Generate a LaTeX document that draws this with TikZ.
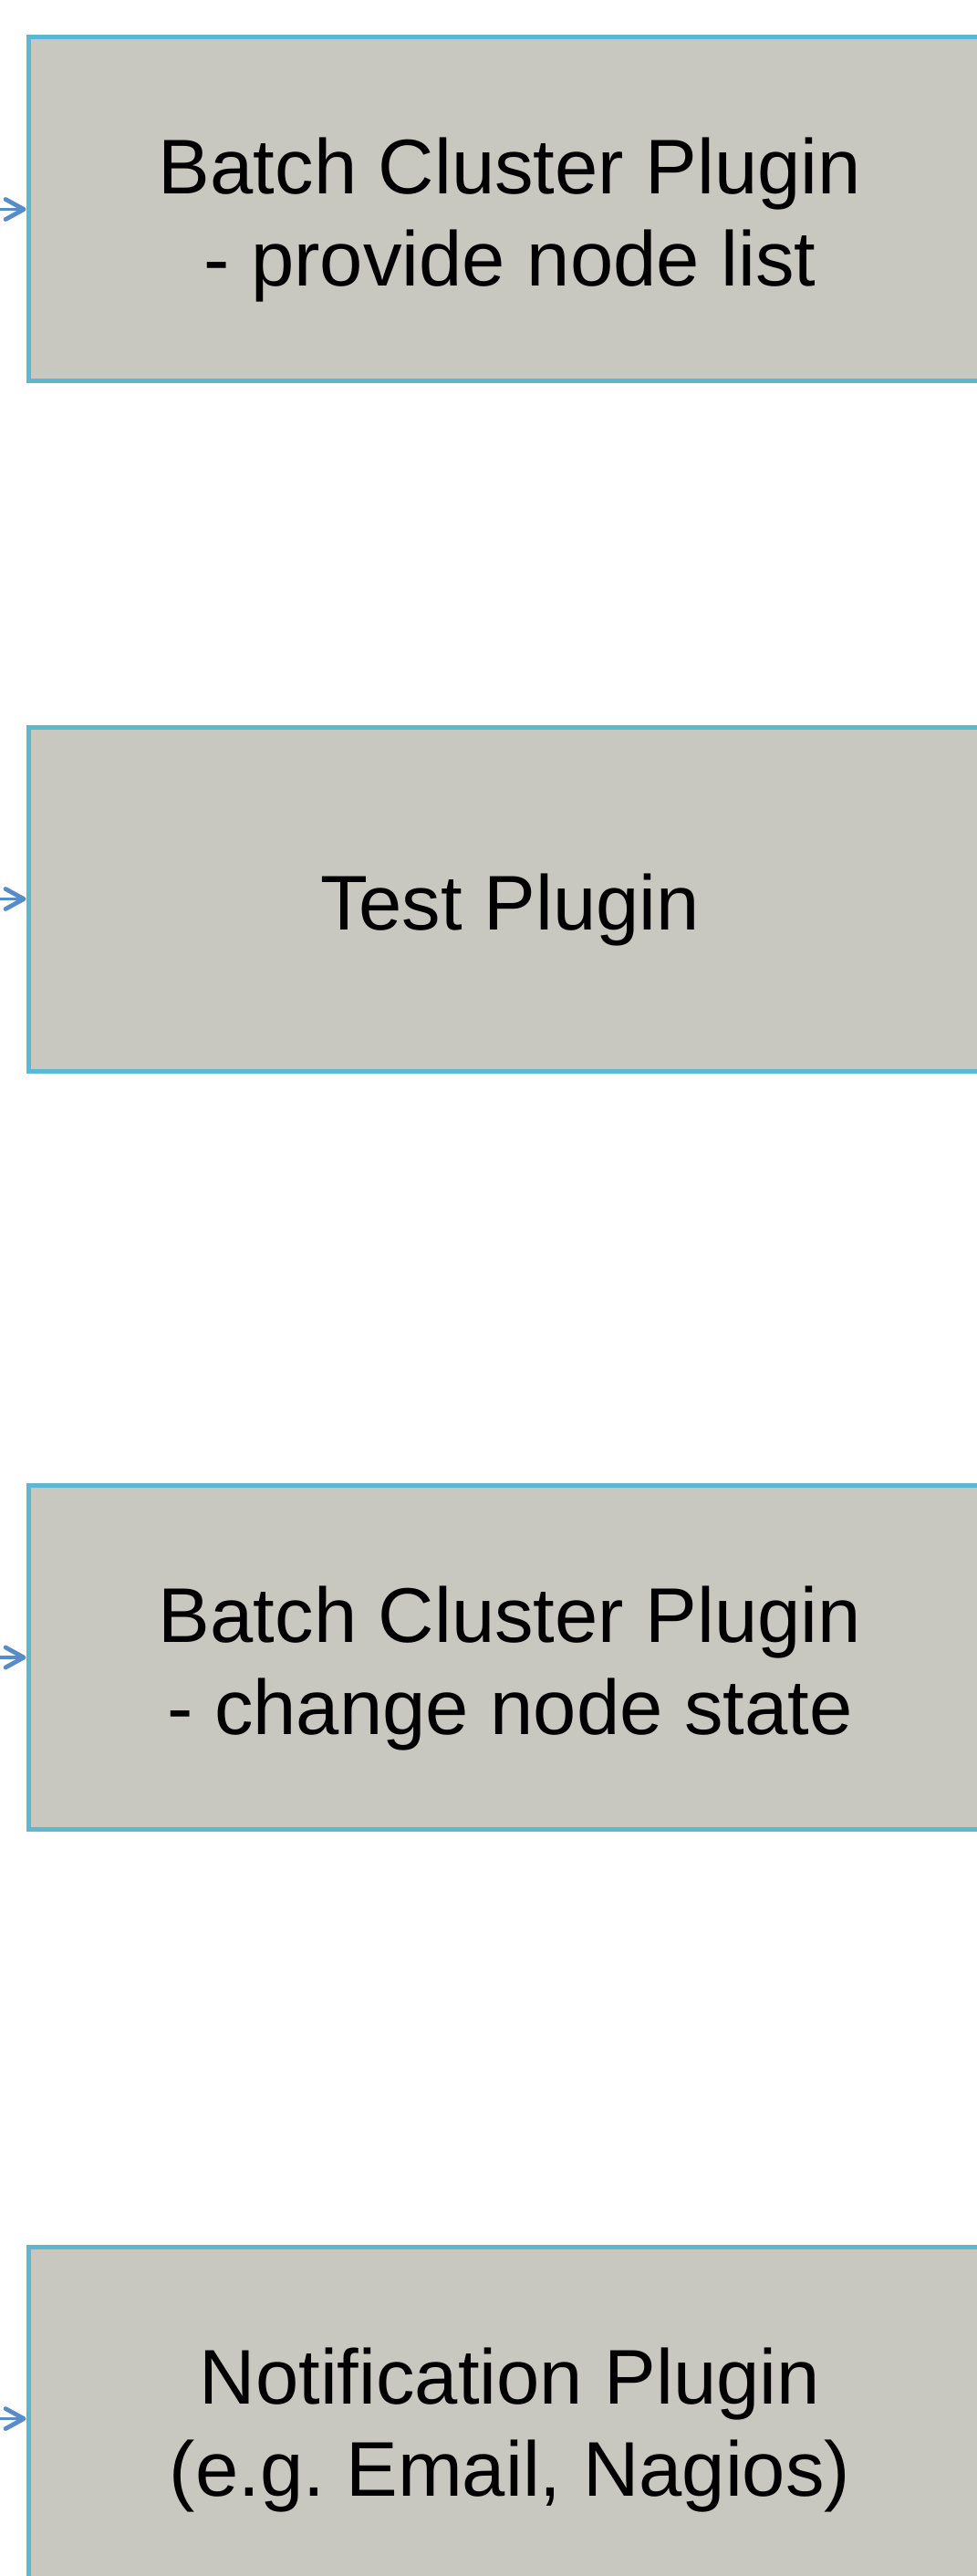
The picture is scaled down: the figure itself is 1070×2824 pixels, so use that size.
\documentclass[tikz,border=0pt]{standalone}
\usepackage{fontspec}
\newfontfamily\plugfont{Liberation Sans}
\usetikzlibrary{arrows.meta,positioning}

\definecolor{plugfill}{RGB}{200,200,192}
\definecolor{plugline}{RGB}{91,184,208}
\definecolor{feedline}{RGB}{88,140,200}

\tikzset{
  plugin/.style={draw=plugline, fill=plugfill, line width=2.5pt, inner sep=0pt,
    minimum width=528pt, minimum height=188.5pt},
  plugtext/.style={align=center, inner sep=0pt, yshift=-6pt,
    font=\plugfont\fontsize{42.5}{50.5}\selectfont},
  feed/.style={draw=feedline, line width=1.6pt,
    -{Straight Barb[length=10pt,width=11pt,line width=2.4pt,round]}}
}

\begin{document}
\begin{tikzpicture}[x=0.5pt,y=0.5pt]
  \useasboundingbox (0,0) rectangle (1070,-2824);
  \coordinate (L) at (0,0);
  \node[plugin, label={[plugtext]center:{Batch Cluster Plugin\\- provide node list}}]
    (BCP) at (559,-229.5) {};
  \node[plugin, label={[plugtext]center:Test Plugin}]
    (TP) at (559,-985.5) {};
  \node[plugin, label={[plugtext]center:{Batch Cluster Plugin\\- change node state}}]
    (BCS) at (559,-1817) {};
  \node[plugin, label={[plugtext]center:{Notification Plugin\\(e.g.\ Email, Nagios)}}]
    (NP) at (559,-2651.5) {};
  % incoming arrows from the left edge
  \foreach \p in {BCP,TP,BCS,NP}
    \draw[feed] (\p.west -| L) -- (\p.west);
\end{tikzpicture}
\end{document}
